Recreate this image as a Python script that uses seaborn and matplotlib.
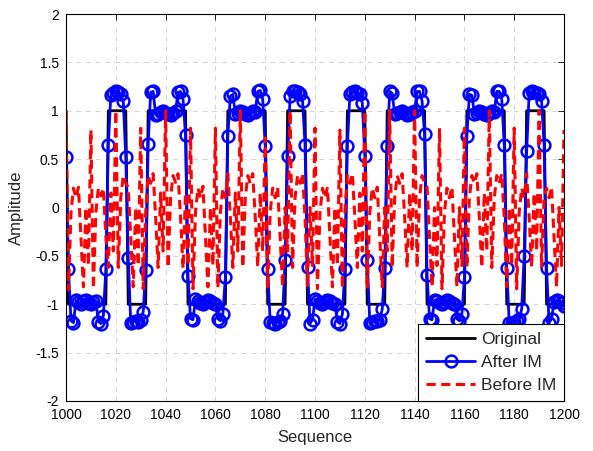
import numpy as np
import matplotlib
matplotlib.use("Agg")
import matplotlib.pyplot as plt
import seaborn as sns

# Sample index axis
sample = np.arange(1000, 1201)

# Transmitted symbols (+1/-1), 8 samples each, preceded by one trailing sample of a +1 symbol
samples_per_symbol = 8
first_sample_level = 1
symbols = [-1, -1, 1, -1, 1, 1, -1, -1, 1, 1, -1, 1, -1, -1, 1, -1,
           1, 1, -1, -1, 1, 1, -1, 1, -1]
original = [first_sample_level] + [s for s in symbols for _ in range(samples_per_symbol)]

# Signal after IM (one value per sample)
after_im = [
    0.52,
    -0.64, -1.17, -1.19, -0.96, -0.98, -1.00, -0.97, -0.96, -0.99, -1.00, -0.98, -0.97, -1.18, -1.20, -1.12, -0.64,
    0.65, 1.16, 1.18, 1.20, 1.19, 1.17, 1.10, 0.52,
    -0.52, -1.19, -1.18, -1.17, -1.18, -1.16, -1.08, -0.65,
    0.66, 1.19, 1.20, 0.96, 0.97, 0.99, 1.00, 0.98, 0.97, 0.96, 0.98, 1.00, 1.19, 1.20, 1.12, 0.75,
    -0.71, -1.15, -1.16, -0.95, -0.97, -0.99, -1.00, -0.98, -0.96, -0.97, -0.99, -1.00, -1.15, -1.17, -1.10, -0.72,
    0.74, 1.15, 1.17, 0.97, 0.98, 1.00, 0.99, 0.97, 0.96, 0.98, 1.00, 0.99, 1.20, 1.21, 1.12, 0.64,
    -0.64, -1.18, -1.19, -1.20, -1.18, -1.17, -1.10, -0.54,
    0.53, 1.15, 1.20, 1.20, 1.19, 1.17, 1.10, 0.65,
    -0.62, -1.20, -1.16, -0.95, -0.97, -0.99, -1.00, -0.98, -0.96, -0.97, -0.99, -1.00, -1.18, -1.20, -1.10, -0.64,
    0.64, 1.17, 1.19, 1.20, 1.18, 1.17, 1.08, 0.53,
    -0.54, -1.19, -1.18, -1.17, -1.17, -1.16, -1.05, -0.63,
    0.64, 1.20, 1.18, 0.97, 0.98, 0.99, 1.00, 0.98, 0.96, 0.97, 0.99, 1.00, 1.20, 1.20, 1.10, 0.76,
    -0.70, -1.15, -1.16, -0.96, -0.97, -0.99, -1.00, -0.98, -0.96, -0.97, -0.99, -1.00, -1.15, -1.17, -1.10, -0.72,
    0.74, 1.17, 1.16, 0.97, 0.98, 1.00, 0.99, 0.97, 0.96, 0.98, 1.00, 0.99, 1.20, 1.20, 1.12, 0.65,
    -0.63, -1.19, -1.19, -1.18, -1.17, -1.15, -1.05, -0.50,
    0.58, 1.18, 1.20, 1.19, 1.18, 1.17, 1.10, 0.65,
    -0.63, -1.19, -1.15, -0.98, -0.96, -0.97, -0.99, -1.02,
]

# Signal before IM (one value per sample)
before_im = [
    1.00, -0.85, -0.05, 0.20, 0.10, 0.21, -0.30, -0.82, 0.00, -0.60,
    0.80, -0.84, -0.05, 0.20, 0.12, 0.20, -0.30, -0.62, 0.15, -0.45,
    1.00, -0.62, 0.10, 0.33, 0.25, 0.21, -0.30, -0.82, 0.00, -0.60,
    0.82, -0.84, -0.05, 0.33, 0.25, 0.35, -0.10, -0.62, 0.15, -0.45,
    1.00, -0.62, 0.10, 0.33, 0.26, 0.35, -0.10, -0.63, 0.15, -0.60,
    0.82, -0.84, -0.05, 0.20, 0.10, 0.22, -0.30, -0.82, 0.00, -0.60,
    0.82, -0.83, -0.05, 0.20, 0.10, 0.35, -0.10, -0.62, 0.15, -0.45,
    1.00, -0.62, 0.10, 0.33, 0.25, 0.35, -0.10, -0.61, 0.15, -0.45,
    0.72, -0.84, -0.05, 0.20, 0.10, 0.21, -0.30, -0.82, 0.00, -0.45,
    1.00, -0.62, 0.10, 0.33, 0.25, 0.35, -0.10, -0.82, 0.00, -0.60,
    0.82, -0.84, -0.05, 0.20, 0.10, 0.21, -0.30, -0.82, 0.00, -0.60,
    0.80, -0.84, -0.05, 0.33, 0.25, 0.35, -0.10, -0.62, 0.15, -0.45,
    1.00, -0.84, -0.05, 0.20, 0.10, 0.21, -0.30, -0.82, 0.00, -0.45,
    1.00, -0.62, 0.10, 0.33, 0.25, 0.35, -0.10, -0.62, 0.15, -0.45,
    1.00, -0.62, 0.10, 0.33, 0.25, 0.21, -0.30, -0.82, 0.00, -0.60,
    0.82, -0.84, -0.05, 0.20, 0.10, 0.21, -0.30, -0.82, 0.00, -0.60,
    0.82, -0.62, 0.10, 0.33, 0.25, 0.35, -0.10, -0.62, 0.15, -0.45,
    1.00, -0.62, 0.10, 0.33, 0.25, 0.35, -0.10, -0.82, 0.00, -0.60,
    0.82, -0.84, -0.05, 0.20, 0.10, 0.35, -0.10, -0.62, 0.15, -0.45,
    1.00, -0.62, 0.10, 0.20, 0.10, 0.21, -0.30, -0.82, 0.00, -0.60,
    0.80,
]

x_ticks = list(range(1000, 1201, 20))
y_ticks = [-2, -1.5, -1, -0.5, 0, 0.5, 1, 1.5, 2]
y_tick_labels = ["-2", "-1.5", "-1", "-0.5", "0", "0.5", "1", "1.5", "2"]

sns.set_style("white")
plt.rcParams["font.family"] = ["Liberation Sans", "DejaVu Sans"]

fig = plt.figure(figsize=(5.93, 4.51), dpi=100)
ax = fig.add_axes([66 / 593, 1 - 401 / 451, (564 - 66) / 593, (401 - 14) / 451])

sns.lineplot(x=sample, y=original, color="black", linewidth=2.0,
             label="Original", ax=ax, sort=False)
sns.lineplot(x=sample, y=after_im, color="blue", linewidth=2.0,
             marker="o", markersize=8.5, markerfacecolor="none",
             markeredgecolor="blue", markeredgewidth=1.8,
             label="After IM", ax=ax, sort=False)
sns.lineplot(x=sample, y=before_im, color="red", linewidth=2.2,
             linestyle=(0, (3.0, 1.8)), label="Before IM", ax=ax, sort=False)

ax.set_xlim(1000, 1200)
ax.set_ylim(-2, 2)
ax.set_xticks(x_ticks)
ax.set_xticklabels([str(t) for t in x_ticks])
ax.set_yticks(y_ticks)
ax.set_yticklabels(y_tick_labels)

ax.set_axisbelow(True)
ax.grid(True, linestyle=(0, (5, 5)), color="#d4d4d4", linewidth=0.7)
for sp in ax.spines.values():
    sp.set_visible(True)
    sp.set_color("black")
    sp.set_linewidth(0.8)
ax.tick_params(direction="in", length=4, width=0.6, top=True, right=True,
               labelsize=10, pad=5, colors="black")

ax.set_xlabel("Sequence", fontsize=12, labelpad=6)
ax.set_ylabel("Amplitude", fontsize=12, labelpad=8)

leg = ax.legend(loc="lower right", bbox_to_anchor=(1, 0), borderaxespad=0,
                frameon=True, fancybox=False, edgecolor="black", framealpha=1,
                fontsize=12.5, handlelength=2.8, handletextpad=0.35,
                labelspacing=0.45, borderpad=0.45)
leg.get_frame().set_linewidth(0.8)

fig.savefig("out.png", dpi=100, facecolor="white")
